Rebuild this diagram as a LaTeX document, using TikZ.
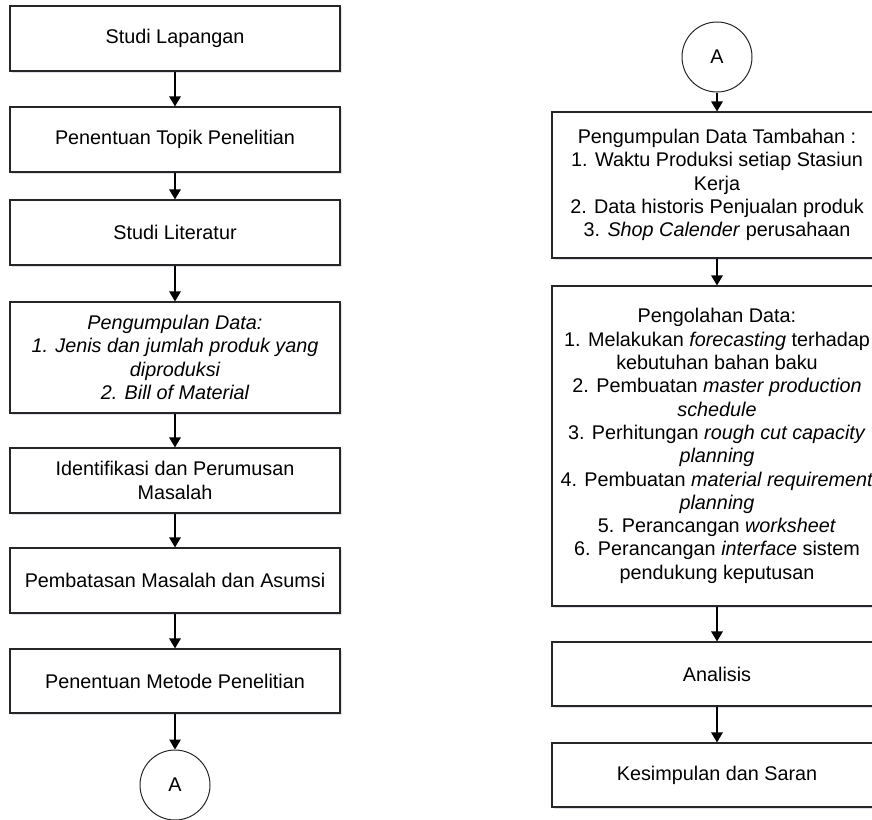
\documentclass[tikz,border=0pt]{standalone}
\usepackage{fontspec}
\setmainfont{Liberation Sans}
\usetikzlibrary{arrows.meta,shadows}
\begin{document}
\begin{tikzpicture}[x=1pt,y=-1pt,
  box/.style={draw=black!85,line width=1.1pt,fill=white,minimum width=330pt,inner sep=2pt,align=center,
    font=\fontsize{19.8}{23.3}\selectfont,
    drop shadow={shadow xshift=1.6pt,shadow yshift=-1.6pt,fill=blue!20!gray!40,opacity=.5}},
  conn/.style={draw=black!85,circle,line width=1pt,minimum size=70pt,inner sep=0pt,font=\fontsize{19.8}{23.3}\selectfont},
  arr/.style={line width=1.4pt,-{Triangle[length=10pt,width=11.5pt]}}]
\path[use as bounding box] (0,0) rectangle (872,819);
\clip (0,0) rectangle (872,819);
% left column
\node[box,minimum height=65pt] (b1) at (175,38.5) {Studi Lapangan};
\node[box,minimum height=65pt] (b2) at (175,139.5) {Penentuan Topik Penelitian};
\node[box,minimum height=65pt] (b3) at (175,232.5) {Studi Literatur};
\node[box,minimum height=111pt] (b4) at (175,357.5) {\itshape Pengumpulan Data:\\ \itshape 1. Jenis dan jumlah produk yang\\ \itshape diproduksi\\ \itshape 2. Bill of Material};
\node[box,minimum height=65pt] (b5) at (175,480.5) {Identifikasi dan Perumusan\\ Masalah};
\node[box,minimum height=65pt] (b6) at (175,580.5) {Pembatasan Masalah dan Asumsi};
\node[box,minimum height=64pt] (b7) at (175,681) {Penentuan Metode Penelitian};
\node[conn] (c1) at (175,785) {A};
% right column
\node[conn] (c2) at (717,57) {A};
\node[box,minimum height=146pt] (r1) at (717,185) {Pengumpulan Data Tambahan :\\ 1. Waktu Produksi setiap Stasiun\\ Kerja\\ 2. Data historis Penjualan produk\\ 3. \textit{Shop Calender} perusahaan};
\node[box,minimum height=320pt] (r2) at (717,446) {Pengolahan Data:\\ 1. Melakukan \textit{forecasting} terhadap\\ kebutuhan bahan baku\\ 2. Pembuatan \textit{master production}\\ \textit{schedule}\\ 3. Perhitungan \textit{rough cut capacity}\\ \textit{planning}\\ 4. Pembuatan \textit{material requirement}\\ \textit{planning}\\ 5. Perancangan \textit{worksheet}\\ 6. Perancangan \textit{interface} sistem\\ pendukung keputusan};
\node[box,minimum height=64pt] (r3) at (717,674) {Analisis};
\node[box,minimum height=64pt] (r4) at (717,775) {Kesimpulan dan Saran};
% arrows
\draw[arr] (b1) -- (b2);
\draw[arr] (b2) -- (b3);
\draw[arr] (b3) -- (b4);
\draw[arr] (b4) -- (b5);
\draw[arr] (b5) -- (b6);
\draw[arr] (b6) -- (b7);
\draw[arr] (b7) -- (c1);
\draw[arr] (c2) -- (r1);
\draw[arr] (r1) -- (r2);
\draw[arr] (r2) -- (r3);
\draw[arr] (r3) -- (r4);
\end{tikzpicture}
\end{document}
